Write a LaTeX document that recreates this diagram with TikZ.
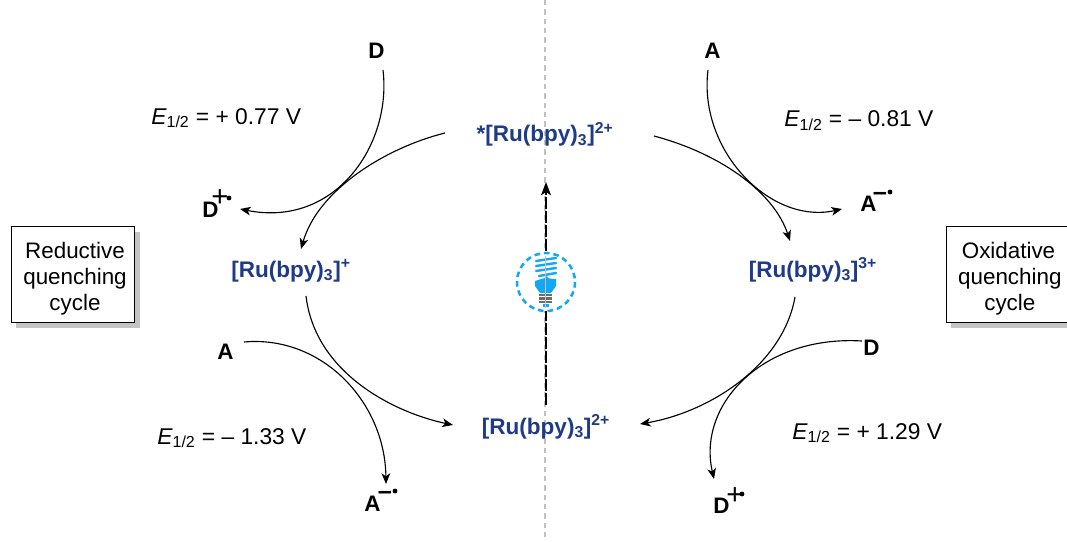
\documentclass[tikz,border=0pt]{standalone}
\usepackage{fontspec}
\setmainfont{Liberation Sans}
\usetikzlibrary{arrows.meta}
\definecolor{rublue}{HTML}{1F3A86}
\definecolor{bulbblue}{HTML}{12A8F5}
\definecolor{shadowgrey}{HTML}{C4C4C4}
\tikzset{
  ru/.style={font=\fontsize{16.9}{18}\selectfont\bfseries,text=rublue,inner sep=0pt},
  spec/.style={font=\fontsize{16.8}{18}\selectfont\bfseries,inner sep=0pt,anchor=base west},
  pot/.style={font=\fontsize{17.1}{18}\selectfont,inner sep=0pt,anchor=base west},
  arc/.style={draw=black,line width=0.85pt,-{Stealth[length=8pt,width=6.5pt,inset=2.2pt]}},
  cyclebox/.style={draw=black,line width=0.9pt,fill=white,minimum width=92.5pt,minimum height=71.5pt,inner sep=0pt,align=center,font=\fontsize{16.8}{19.6}\selectfont},
  shadowbox/.style={fill=shadowgrey,draw=none,minimum width=92.5pt,minimum height=71.5pt,inner sep=0pt},
  bulbline/.style={draw=bulbblue,line width=1.8pt,line cap=round},
  sign/.style={inner sep=0pt,font=\fontsize{22}{22}\selectfont},
  minus/.style={inner sep=0pt,font=\fontsize{19}{20}\selectfont\bfseries},
}
\begin{document}
\begin{tikzpicture}[x=0.75pt,y=-0.75pt]
\useasboundingbox (0,0) rectangle (1067,542);
% centre line
\coordinate (cT) at (545,0);
\coordinate (cB) at (545,540);
\draw[draw=gray!48,line width=0.8pt,dash pattern=on 4pt off 3pt] (cT) -- (cB);
% texts
\node[ru,anchor=base] (exc) at (545,142) {*[Ru(bpy)\textsubscript{3}]\textsuperscript{2+}};
\node[ru,anchor=base] (red) at (291,277) {[Ru(bpy)\textsubscript{3}]\textsuperscript{+}};
\node[ru,anchor=base] (oxi) at (813,277) {[Ru(bpy)\textsubscript{3}]\textsuperscript{3+}};
\node[ru,anchor=base] (gnd) at (546,434) {[Ru(bpy)\textsubscript{3}]\textsuperscript{2+}};
\node[spec] (d1) at (368,59) {D};
\node[spec] (a1) at (704,59) {A};
\node[spec] (a2) at (217,359) {A};
\node[spec] (d2) at (863,355) {D};
\node[spec] (dp1) at (202,217) {D};
\node[spec] (am1) at (860,211) {A};
\node[spec] (am2) at (364,511) {A};
\node[spec] (dp2) at (713,513) {D};
% superscripts of radical ions
\node[sign] (sp1) at (220,198) {+};
\node[sign] (sp2) at (735,496) {+};
\node[minus] (sm1) at (880,196) {–};
\node[minus] (sm2) at (385,495) {–};
\fill (229,198) circle (2.4);
\fill (890,192) circle (2.4);
\fill (395,491) circle (2.4);
\fill (742,494) circle (2.4);
% potentials
\node[pot] (p1) at (151,124) {\textit{E}\textsubscript{1/2} = + 0.77 V};
\node[pot] (p2) at (784,127) {\textit{E}\textsubscript{1/2} = – 0.81 V};
\node[pot] (p3) at (157,444) {\textit{E}\textsubscript{1/2} = – 1.33 V};
\node[pot] (p4) at (792,439) {\textit{E}\textsubscript{1/2} = + 1.29 V};
% boxes
\node[shadowbox] (s1) at (78,280) {};
\node[cyclebox] (b1) at (73,274.5) {\rule{0pt}{18pt}\hspace{3pt}Reductive\\\hspace{3pt}quenching\\\hspace{3pt}cycle};
\node[shadowbox] (s2) at (1013,280) {};
\node[cyclebox] (b2) at (1008.5,274.5) {\rule{0pt}{18pt}Oxidative\\\hspace{2pt}quenching\\\hspace{2pt}cycle};
% connector ends
\coordinate (e1s) at (383,70);
\coordinate (e1e) at (240,209);
\coordinate (e2s) at (445,133);
\coordinate (e2e) at (301,249);
\coordinate (e3s) at (306,296);
\coordinate (e3e) at (453,425);
\coordinate (e4s) at (244,342);
\coordinate (e4e) at (386,484);
\coordinate (e5s) at (862,341);
\coordinate (e5e) at (714,479);
\coordinate (e6s) at (795,297);
\coordinate (e6e) at (640,424);
\coordinate (e7s) at (654,136);
\coordinate (e7e) at (790,241);
\coordinate (e8s) at (708,70);
\coordinate (e8e) at (842,209);
\draw[arc] (e1s) .. controls (392,145) and (335,228) .. (e1e);
\draw[arc] (e2s) .. controls (385,148) and (318,190) .. (e2e);
\draw[arc] (e3s) .. controls (315,372) and (392,412) .. (e3e);
\draw[arc] (e4s) .. controls (322,335) and (385,402) .. (e4e);
\draw[arc] (e5s) .. controls (762,335) and (697,405) .. (e5e);
\draw[arc] (e6s) .. controls (783,365) and (710,412) .. (e6e);
\draw[arc] (e7s) .. controls (725,155) and (775,195) .. (e7e);
\draw[arc] (e8s) .. controls (698,150) and (770,225) .. (e8e);
% central arrow
\coordinate (vB) at (546,405);
\coordinate (vT) at (546,182);
\draw[draw=black,line width=1.1pt,dash pattern=on 9pt off 1.5pt,-{Stealth[length=10pt,width=7.5pt,inset=2.5pt]}] (vB) -- (vT);
% bulb
\fill[white] (546,282) circle (29);
\draw[draw=bulbblue,line width=1.9pt,dash pattern=on 4.2pt off 3pt] (546,282) circle (29);
\draw[bulbline] (536,261) -- (556,258);
\draw[bulbline] (536,266) -- (556,263);
\draw[bulbline] (536,271) -- (556,268);
\draw[bulbline] (539,276) -- (556,273);
\fill[bulbblue] (535,281) -- (541,279) .. controls (544,279) and (545,278) .. (546,276) .. controls (547,278) and (549,279) .. (556,279) -- (556,286) -- (551,293) -- (540,293) -- (535,286) -- cycle;
\fill[gray!85!black] (539,294) rectangle (552,296.4);
\fill[gray!85!black] (539,297.4) rectangle (552,299.8);
\fill[gray!85!black] (539,300.8) rectangle (552,303);
\fill[bulbblue] (543,304) rectangle (549,306.5);
\draw[draw=gray!48,line width=0.6pt] (545,256) -- (545,308);
\end{tikzpicture}
\end{document}
